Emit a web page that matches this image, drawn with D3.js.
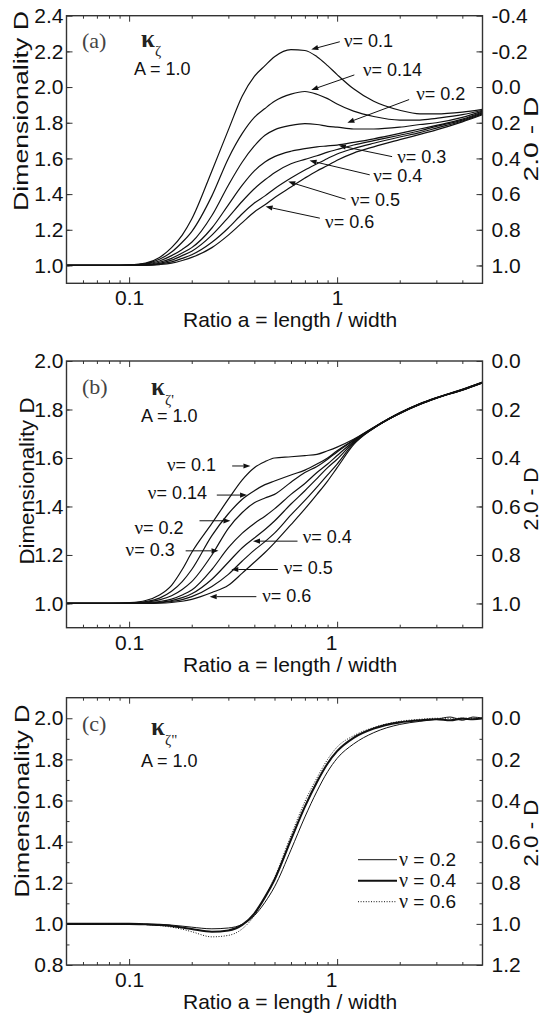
<!DOCTYPE html>
<html>
<head>
<meta charset="utf-8">
<script src="https://cdn.jsdelivr.net/npm/d3@7"></script>
<style>
  body { margin: 0; background: #fff; }
  svg { display: block; font-family: "Liberation Sans", Arial, sans-serif; }
  .tick text { font-size: 21px; fill: #111; }
  .tick line { stroke: #333; }
</style>
</head>
<body>
<svg id="chart"></svg>
<script>
// ratio a = length / width, shared by panels (a) and (b)
const ratio = [0.05, 0.08, 0.1, 0.12, 0.14, 0.16, 0.18, 0.2, 0.25, 0.3, 0.35, 0.4, 0.45, 0.5,
  0.6, 0.7, 0.8, 0.9, 1.0, 1.2, 1.5, 2, 2.5, 3, 4, 5];

// panel (a): kappa_zeta
const a01 = [1.0, 1.0, 1.003, 1.013, 1.045, 1.10, 1.17, 1.26, 1.53, 1.76, 1.95, 2.06, 2.12, 2.17, 2.21, 2.205, 2.17, 2.12, 2.07, 1.99, 1.92, 1.87, 1.85, 1.85, 1.86, 1.875];
const a014 = [1.0, 1.0, 1.002, 1.01, 1.035, 1.075, 1.13, 1.19, 1.39, 1.60, 1.74, 1.83, 1.88, 1.92, 1.96, 1.975, 1.96, 1.935, 1.905, 1.865, 1.835, 1.815, 1.815, 1.825, 1.845, 1.87];
const a02 = [1.0, 1.0, 1.002, 1.008, 1.025, 1.055, 1.09, 1.13, 1.28, 1.45, 1.58, 1.67, 1.73, 1.76, 1.785, 1.795, 1.79, 1.78, 1.775, 1.765, 1.765, 1.775, 1.79, 1.80, 1.83, 1.865];
const a03 = [1.0, 1.0, 1.001, 1.005, 1.018, 1.04, 1.07, 1.10, 1.21, 1.34, 1.45, 1.53, 1.58, 1.61, 1.64, 1.655, 1.665, 1.67, 1.675, 1.69, 1.71, 1.74, 1.765, 1.785, 1.82, 1.86];
const a04 = [1.0, 1.0, 1.0, 1.003, 1.012, 1.03, 1.055, 1.08, 1.17, 1.27, 1.36, 1.43, 1.48, 1.52, 1.57, 1.595, 1.615, 1.635, 1.65, 1.675, 1.70, 1.73, 1.755, 1.78, 1.815, 1.855];
const a05 = [1.0, 1.0, 1.0, 1.002, 1.008, 1.02, 1.04, 1.06, 1.13, 1.21, 1.29, 1.35, 1.39, 1.43, 1.49, 1.535, 1.57, 1.60, 1.625, 1.655, 1.685, 1.72, 1.745, 1.77, 1.81, 1.85];
const a06 = [1.0, 1.0, 1.0, 1.001, 1.005, 1.013, 1.028, 1.045, 1.10, 1.17, 1.24, 1.30, 1.34, 1.38, 1.44, 1.49, 1.53, 1.56, 1.59, 1.63, 1.665, 1.705, 1.735, 1.76, 1.805, 1.845];

// panel (b): kappa_zeta'
const b01 = [1.0, 1.0, 1.003, 1.012, 1.035, 1.075, 1.14, 1.21, 1.33, 1.43, 1.51, 1.56, 1.585, 1.60, 1.605, 1.61, 1.615, 1.63, 1.645, 1.677, 1.727, 1.786, 1.824, 1.849, 1.883, 1.913];
const b014 = [1.0, 1.0, 1.002, 1.008, 1.022, 1.05, 1.09, 1.14, 1.28, 1.37, 1.43, 1.465, 1.49, 1.505, 1.53, 1.55, 1.575, 1.60, 1.63, 1.674, 1.726, 1.786, 1.823, 1.848, 1.883, 1.912];
const b02 = [1.0, 1.0, 1.001, 1.005, 1.015, 1.032, 1.058, 1.09, 1.20, 1.31, 1.375, 1.415, 1.435, 1.45, 1.50, 1.54, 1.565, 1.595, 1.625, 1.672, 1.725, 1.785, 1.823, 1.848, 1.882, 1.912];
const b03 = [1.0, 1.0, 1.0, 1.003, 1.008, 1.018, 1.035, 1.055, 1.14, 1.23, 1.29, 1.33, 1.36, 1.39, 1.45, 1.495, 1.54, 1.575, 1.61, 1.668, 1.724, 1.785, 1.822, 1.848, 1.881, 1.911];
const b04 = [1.0, 1.0, 1.0, 1.001, 1.005, 1.012, 1.024, 1.04, 1.10, 1.17, 1.23, 1.27, 1.305, 1.34, 1.41, 1.465, 1.515, 1.56, 1.595, 1.665, 1.724, 1.784, 1.822, 1.847, 1.881, 1.911];
const b05 = [1.0, 1.0, 1.0, 1.0, 1.003, 1.008, 1.016, 1.028, 1.07, 1.12, 1.175, 1.22, 1.255, 1.29, 1.365, 1.425, 1.48, 1.53, 1.575, 1.66, 1.723, 1.784, 1.821, 1.847, 1.88, 1.91];
const b06 = [1.0, 1.0, 1.0, 1.0, 1.001, 1.004, 1.009, 1.017, 1.045, 1.075, 1.125, 1.17, 1.21, 1.25, 1.325, 1.39, 1.45, 1.505, 1.56, 1.655, 1.723, 1.783, 1.821, 1.846, 1.88, 1.91];

// panel (c): kappa_zeta''
const ratioC = [0.05, 0.08, 0.1, 0.12, 0.14, 0.16, 0.18, 0.2, 0.25, 0.3, 0.35, 0.4, 0.45, 0.5,
  0.6, 0.7, 0.8, 0.9, 1.0, 1.2, 1.5, 2, 2.5, 3, 3.5, 4, 4.5, 5];
const c02 = [1.0, 1.0, 1.0, 0.999, 0.997, 0.994, 0.989, 0.984, 0.976, 0.98, 0.998, 1.04, 1.105, 1.18, 1.36, 1.52, 1.645, 1.74, 1.805, 1.875, 1.93, 1.97, 1.985, 1.995, 2.006, 1.99, 2.006, 2.0];
const c04 = [1.0, 1.0, 1.0, 0.998, 0.995, 0.99, 0.982, 0.975, 0.962, 0.968, 0.995, 1.05, 1.13, 1.215, 1.41, 1.57, 1.69, 1.78, 1.84, 1.905, 1.95, 1.98, 1.99, 1.995, 1.99, 1.998, 1.995, 2.0];
const c06 = [1.0, 1.0, 1.0, 0.997, 0.992, 0.984, 0.974, 0.962, 0.937, 0.944, 0.976, 1.04, 1.13, 1.225, 1.43, 1.595, 1.71, 1.80, 1.86, 1.915, 1.955, 1.985, 1.995, 2.0, 2.0, 2.0, 2.0, 2.0];

// tick values
const xMajor = [0.1, 1];
const xMinor = [0.06, 0.07, 0.08, 0.09, 0.2, 0.3, 0.4, 0.5, 0.6, 0.7, 0.8, 0.9, 2, 3, 4];
const yTicksA = [1.0, 1.2, 1.4, 1.6, 1.8, 2.0, 2.2, 2.4];
const yTicksB = [1.0, 1.2, 1.4, 1.6, 1.8, 2.0];
const yTicksC = [0.8, 1.0, 1.2, 1.4, 1.6, 1.8, 2.0];
const rTicksA = [-0.4, -0.2, 0.0, 0.2, 0.4, 0.6, 0.8, 1.0];
const rTicksB = [0.0, 0.2, 0.4, 0.6, 0.8, 1.0];
const rTicksC = [0.0, 0.2, 0.4, 0.6, 0.8, 1.0, 1.2];

// arrow labels: text anchor (a, D), arrow tail, arrow tip
const notesA = [
  { nu: "0.1", t: [1.079, 2.226], from: [1.03, 2.254], to: [0.751, 2.211] },
  { nu: "0.14", t: [1.33, 2.062], from: [1.21, 2.068], to: [0.751, 1.984] },
  { nu: "0.2", t: [2.40, 1.928], from: [2.22, 1.93], to: [1.12, 1.80] },
  { nu: "0.3", t: [1.945, 1.573], from: [1.838, 1.61], to: [1.019, 1.672] },
  { nu: "0.4", t: [1.49, 1.47], from: [1.435, 1.508], to: [0.737, 1.588] },
  { nu: "0.5", t: [1.164, 1.334], from: [1.099, 1.371], to: [0.582, 1.47] },
  { nu: "0.6", t: [0.875, 1.209], from: [0.826, 1.265], to: [0.453, 1.33] }
];
const notesB = [
  { nu: "0.1", t: [0.152, 1.548], from: [0.313, 1.567], to: [0.383, 1.567] },
  { nu: "0.14", t: [0.123, 1.429], from: [0.264, 1.447], to: [0.369, 1.447] },
  { nu: "0.2", t: [0.106, 1.286], from: [0.218, 1.341], to: [0.307, 1.341] },
  { nu: "0.3", t: [0.0962, 1.195], from: [0.187, 1.217], to: [0.269, 1.217] },
  { nu: "0.4", t: [0.683, 1.248], from: [0.645, 1.257], to: [0.394, 1.257] },
  { nu: "0.5", t: [0.554, 1.12], from: [0.519, 1.14], to: [0.31, 1.14] },
  { nu: "0.6", t: [0.436, 1.007], from: [0.409, 1.028], to: [0.244, 1.028] }
];
const legendC = ["0.2", "0.4", "0.6"];

const width = 541, height = 1014;
const svg = d3.select("#chart").attr("width", width).attr("height", height);

const x0 = 66.5, x1 = 482.5;
const x = d3.scaleLog().domain([0.05, 5]).range([x0, x1]);
const fmt = v => (v < 0 ? "-" : "") + Math.abs(v).toFixed(1);

const thin = { w: 1.2, dash: null };
const panels = [
  {
    tag: "(a)", prime: "", top: 15.7, bottom: 283.3, yMin: 0.9, yMax: 2.4,
    yTicks: yTicksA, rTicks: rTicksA, xs: ratio, oneDx: 0,
    series: [a01, a014, a02, a03, a04, a05, a06].map(v => ({ v, ...thin })),
    notes: notesA, txt: { tagX: 82, tagY: 32, kX: 141, kY: 31, sY: 40, aX: 134, aY: 59 },
    yLab: [28, 111, 200], rLab: [139, 85]
  },
  {
    tag: "(b)", prime: "'", top: 361, bottom: 627.7, yMin: 0.9, yMax: 2.0,
    yTicks: yTicksB, rTicks: rTicksB, xs: ratio, oneDx: -6,
    series: [b01, b014, b02, b03, b04, b05, b06].map(v => ({ v, ...thin })),
    notes: notesB, txt: { tagX: 82, tagY: 33, kX: 151, kY: 34, sY: 44, aX: 141, aY: 61 },
    yLab: [34, 481, 167], rLab: [499, 63]
  },
  {
    tag: "(c)", prime: "\"", top: 697.7, bottom: 965, yMin: 0.8, yMax: 2.1,
    yTicks: yTicksC, rTicks: rTicksC, xs: ratioC, oneDx: -6,
    series: [
      { v: c02, w: 1, dash: null },
      { v: c04, w: 2.1, dash: null },
      { v: c06, w: 1, dash: "1,1.6" }
    ],
    notes: [], txt: { tagX: 82, tagY: 33, kX: 151, kY: 37, sY: 47, aX: 141, aY: 69 },
    yLab: [29, 801, 193], rLab: [833, 67]
  }
];

function drawPanel(p) {
  const g = svg.append("g");
  const y = d3.scaleLinear().domain([p.yMin, p.yMax]).range([p.bottom, p.top]);
  const yR = d3.scaleLinear().domain([2 - p.yMin, 2 - p.yMax]).range([p.bottom, p.top]);
  const yMinor = d3.range(Math.round(p.yMin * 10) + 1, Math.round(p.yMax * 10), 2).map(d => d / 10);

  const axes = [
    [d3.axisLeft(y).tickValues(p.yTicks).tickSize(-6).tickPadding(3).tickFormat(fmt), x0, 0],
    [d3.axisLeft(y).tickValues(yMinor).tickSize(-3).tickFormat(""), x0, 0],
    [d3.axisRight(yR).tickValues(p.rTicks).tickSize(-6).tickPadding(9).tickFormat(fmt), x1, 0],
    [d3.axisRight(y).tickValues(yMinor).tickSize(-3).tickFormat(""), x1, 0],
    [d3.axisBottom(x).tickValues(xMajor).tickSize(-6).tickPadding(7).tickFormat(d => d < 1 ? "0.1" : "1"), 0, p.bottom],
    [d3.axisBottom(x).tickValues(xMinor).tickSize(-3).tickFormat(""), 0, p.bottom],
    [d3.axisTop(x).tickValues(xMajor).tickSize(-6).tickFormat(""), 0, p.top],
    [d3.axisTop(x).tickValues(xMinor).tickSize(-3).tickFormat(""), 0, p.top]
  ];
  axes.forEach(([ax, tx, ty], i) => {
    const ag = g.append("g").attr("transform", `translate(${tx},${ty})`).call(ax);
    ag.select(".domain").remove();
    ag.attr("font-family", null).attr("font-size", null);
    if (i === 4) ag.selectAll("text").filter(d => d === 1).attr("dx", p.oneDx);
  });

  // clip curves to the frame
  const clipId = "clip" + p.tag[1];
  g.append("clipPath").attr("id", clipId)
    .append("rect").attr("x", x0).attr("y", p.top).attr("width", x1 - x0).attr("height", p.bottom - p.top);

  const line = d3.line().x(d => x(d[0])).y(d => y(d[1])).curve(d3.curveMonotoneX);
  g.append("g").attr("clip-path", `url(#${clipId})`)
    .selectAll("path").data(p.series).join("path")
    .attr("d", s => line(p.xs.map((a, i) => [a, s.v[i]])))
    .attr("fill", "none").attr("stroke", "#111")
    .attr("stroke-width", s => s.w)
    .attr("stroke-dasharray", s => s.dash)
    .attr("stroke-linejoin", "round");

  g.append("rect").attr("x", x0).attr("y", p.top)
    .attr("width", x1 - x0).attr("height", p.bottom - p.top)
    .attr("fill", "none").attr("stroke", "#333").attr("stroke-width", 1.4);

  // arrow annotations
  p.notes.forEach(n => {
    const fx = x(n.from[0]), fy = y(n.from[1]), tx = x(n.to[0]), ty = y(n.to[1]);
    const ang = Math.atan2(ty - fy, tx - fx);
    const L = 7, W = 2.6;
    const bx = tx - L * Math.cos(ang), by = ty - L * Math.sin(ang);
    g.append("line").attr("x1", fx).attr("y1", fy).attr("x2", bx).attr("y2", by)
      .attr("stroke", "#111").attr("stroke-width", 1);
    g.append("path")
      .attr("d", `M${tx},${ty}L${bx - W * Math.sin(ang)},${by + W * Math.cos(ang)}L${bx + W * Math.sin(ang)},${by - W * Math.cos(ang)}Z`)
      .attr("fill", "#111");
    const t = g.append("text").attr("x", x(n.t[0])).attr("y", y(n.t[1]))
      .attr("font-size", 18).attr("fill", "#111");
    t.append("tspan").attr("font-family", "Liberation Serif, serif").attr("font-size", 19).text("\u03bd");
    t.append("tspan").text("= " + n.nu);
  });

  // panel tag and kappa label
  const T = p.txt;
  g.append("text").attr("x", T.tagX).attr("y", p.top + T.tagY)
    .attr("font-family", "Liberation Serif, serif").attr("font-size", 22).attr("fill", "#444").text(p.tag);
  g.append("text").attr("x", T.kX).attr("y", p.top + T.kY)
    .attr("font-family", "Liberation Serif, serif").attr("font-weight", "bold").attr("font-size", 25)
    .attr("fill", "#222").text("\u03ba");
  g.append("text").attr("x", T.kX + 14).attr("y", p.top + T.sY)
    .attr("font-family", "Liberation Serif, serif").attr("font-size", 15).attr("fill", "#222")
    .text("\u03b6" + p.prime);
  g.append("text").attr("x", T.aX).attr("y", p.top + T.aY)
    .attr("font-size", 18).attr("fill", "#111").text("A = 1.0");

  // axis titles
  g.append("text").attr("x", 183).attr("y", p.bottom + 44)
    .attr("font-size", 21).attr("fill", "#111").text("Ratio a = length / width");
  g.append("text").attr("transform", `translate(${p.yLab[0]},${p.yLab[1]}) rotate(-90)`)
    .attr("text-anchor", "middle").attr("font-size", 21).attr("fill", "#111")
    .attr("textLength", p.yLab[2]).attr("lengthAdjust", "spacingAndGlyphs").text("Dimensionality D");
  g.append("text").attr("transform", `translate(538,${p.rLab[0]}) rotate(-90)`)
    .attr("text-anchor", "middle").attr("font-size", 20).attr("fill", "#111")
    .attr("textLength", p.rLab[1]).attr("lengthAdjust", "spacingAndGlyphs").text("2.0 - D");
}

panels.forEach(drawPanel);

// legend for panel (c)
const pc = panels[2];
const lg = svg.append("g");
legendC.forEach((nu, i) => {
  const s = pc.series[i];
  const ly = pc.top + 162 + i * 21;
  lg.append("line").attr("x1", 358).attr("x2", 397).attr("y1", ly).attr("y2", ly)
    .attr("stroke", "#111").attr("stroke-width", s.w).attr("stroke-dasharray", s.dash);
  const t = lg.append("text").attr("x", 399).attr("y", ly + 6).attr("font-size", 19).attr("fill", "#111");
  t.append("tspan").attr("font-family", "Liberation Serif, serif").attr("font-size", 20).text("\u03bd");
  t.append("tspan").text(" = " + nu);
});
</script>
</body>
</html>
